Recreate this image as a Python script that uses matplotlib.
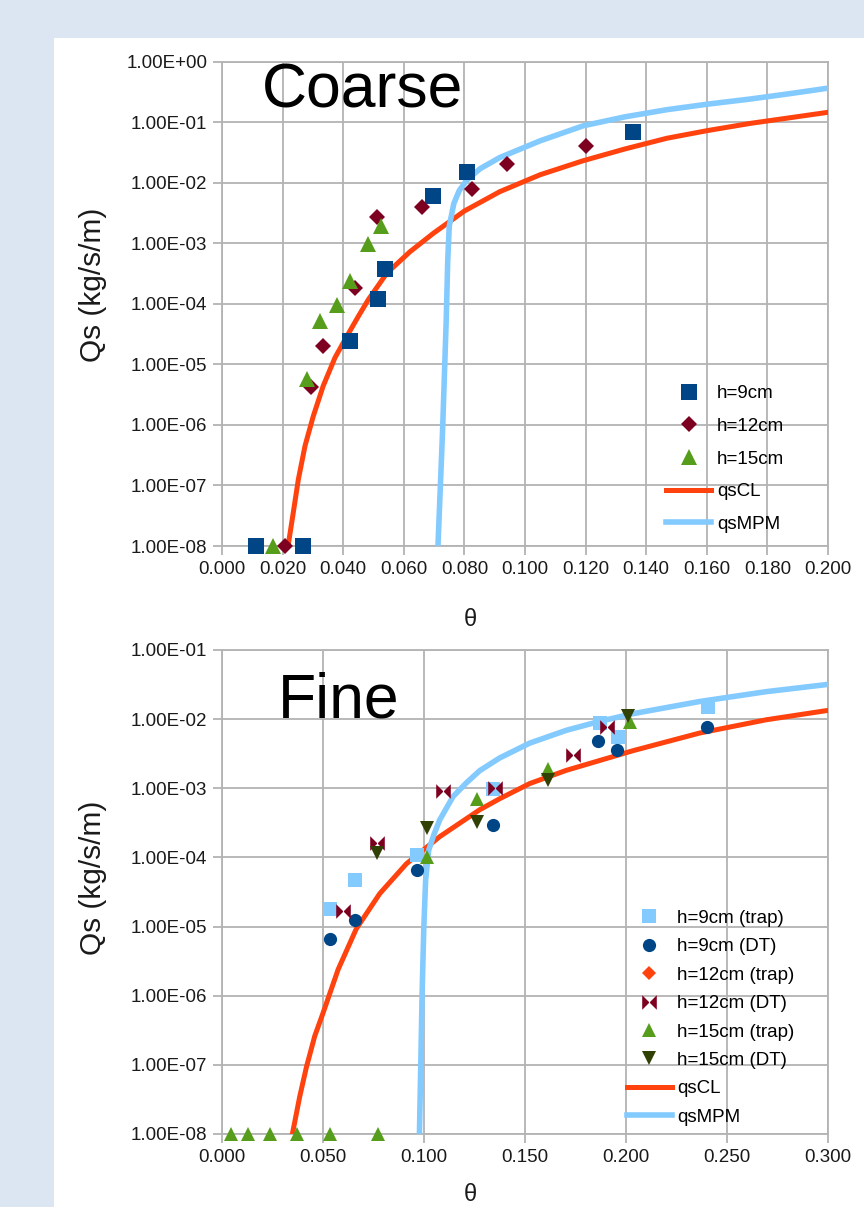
import matplotlib
matplotlib.use("Agg")
import matplotlib.pyplot as plt
from matplotlib.path import Path
from matplotlib.patches import Rectangle
from matplotlib.ticker import FixedLocator, FuncFormatter

plt.rcParams['font.family'] = ['Liberation Sans', 'DejaVu Sans']

# ---- Coarse data ----
c_h9_theta = [0.0111, 0.0266, 0.0421, 0.0514, 0.0537, 0.0695, 0.0808, 0.1356]
c_h9_qs = [1e-8, 1e-8, 2.4e-5, 1.2e-4, 3.8e-4, 6.1e-3, 1.5e-2, 6.9e-2]
c_h12_theta = [0.0207, 0.0295, 0.0333, 0.0438, 0.0510, 0.0661, 0.0826, 0.0939, 0.1200]
c_h12_qs = [1e-8, 4.2e-6, 2.0e-5, 1.8e-4, 2.7e-3, 4.0e-3, 7.7e-3, 2.0e-2, 4.1e-2]
c_h15_theta = [0.0168, 0.0281, 0.0325, 0.0378, 0.0424, 0.0482, 0.0526]
c_h15_qs = [1e-8, 5.8e-6, 5.2e-5, 9.5e-5, 2.4e-4, 9.6e-4, 1.9e-3]

c_cl_theta = [0.0215, 0.0235, 0.0252, 0.0274, 0.0301, 0.0334, 0.0373, 0.0412, 0.0450,
              0.0483, 0.0544, 0.0620, 0.0697, 0.0800, 0.0917, 0.1050, 0.1192, 0.1330,
              0.1468, 0.1600, 0.1743, 0.1870, 0.2000]
c_cl_qs = [8e-9, 3.5e-8, 1.26e-7, 4.5e-7, 1.38e-6, 4.4e-6, 1.29e-5, 2.9e-5, 6.2e-5,
           1.17e-4, 3.2e-4, 7.2e-4, 1.45e-3, 3.4e-3, 7.1e-3, 1.35e-2, 2.3e-2, 3.6e-2,
           5.4e-2, 7.2e-2, 9.5e-2, 0.117, 0.145]
c_mpm_theta = [0.0712, 0.0728, 0.0740, 0.0745, 0.0750, 0.0765, 0.0783, 0.0808, 0.0852,
               0.0917, 0.1050, 0.1193, 0.1330, 0.1468, 0.1604, 0.1743, 0.1875, 0.2000]
c_mpm_qs = [8e-9, 8.1e-7, 5.4e-5, 5.2e-4, 1.9e-3, 4.5e-3, 7.4e-3, 1.1e-2, 1.7e-2,
            2.6e-2, 4.9e-2, 8.7e-2, 0.122, 0.160, 0.198, 0.240, 0.295, 0.363]

# ---- Fine data ----
f_h9t_theta = [0.0535, 0.0658, 0.0964, 0.1343, 0.1871, 0.1962, 0.2407]
f_h9t_qs = [1.8e-5, 4.7e-5, 1.1e-4, 9.8e-4, 8.7e-3, 5.6e-3, 1.5e-2]
f_h9d_theta = [0.0535, 0.0658, 0.0964, 0.1343, 0.1863, 0.1954, 0.2399]
f_h9d_qs = [6.6e-6, 1.26e-5, 6.5e-5, 2.9e-4, 4.8e-3, 3.6e-3, 7.8e-3]
f_h12t_theta = []
f_h12t_qs = []
f_h12d_theta = [0.0599, 0.0766, 0.1096, 0.1351, 0.1739, 0.1904]
f_h12d_qs = [1.66e-5, 1.6e-4, 9.0e-4, 1.0e-3, 3.0e-3, 7.8e-3]
f_h15t_theta = [0.0047, 0.0129, 0.0237, 0.0369, 0.0533, 0.0771, 0.1013, 0.1261, 0.1615, 0.2020]
f_h15t_qs = [1e-8, 1e-8, 1e-8, 1e-8, 1e-8, 1e-8, 1.0e-4, 7.1e-4, 1.9e-3, 9.1e-3]
f_h15d_theta = [0.0766, 0.1013, 0.1261, 0.1615, 0.2011]
f_h15d_qs = [1.15e-4, 2.7e-4, 3.3e-4, 1.3e-3, 1.1e-2]

f_cl_theta = [0.0345, 0.0385, 0.0418, 0.0459, 0.0500, 0.0575, 0.0665, 0.0781, 0.0913,
              0.1078, 0.1276, 0.1376, 0.1523, 0.1705, 0.2035, 0.2365, 0.2695, 0.3008]
f_cl_qs = [8.9e-9, 3.5e-8, 9.3e-8, 2.6e-7, 5.6e-7, 2.4e-6, 9.3e-6, 3.0e-5, 8.1e-5,
           2.0e-4, 4.9e-4, 7.1e-4, 1.17e-3, 1.82e-3, 3.5e-3, 6.3e-3, 9.8e-3, 1.35e-2]
f_mpm_theta = [0.0977, 0.0984, 0.0991, 0.0999, 0.1008, 0.1023, 0.1048, 0.1078, 0.1144,
               0.1210, 0.1276, 0.1375, 0.1523, 0.1705, 0.1870, 0.2035, 0.2365, 0.2695, 0.3008]
f_mpm_qs = [9e-9, 1.0e-7, 1.2e-6, 9.5e-6, 4.7e-5, 1.26e-4, 2.1e-4, 3.5e-4, 7.6e-4,
            1.2e-3, 1.8e-3, 2.75e-3, 4.5e-3, 6.9e-3, 9.3e-3, 1.2e-2, 1.8e-2, 2.5e-2, 3.2e-2]

c_yticks = [1e-8, 1e-7, 1e-6, 1e-5, 1e-4, 1e-3, 1e-2, 1e-1, 1e0]
c_xticks = [0.00, 0.02, 0.04, 0.06, 0.08, 0.10, 0.12, 0.14, 0.16, 0.18, 0.20]
f_yticks = [1e-8, 1e-7, 1e-6, 1e-5, 1e-4, 1e-3, 1e-2, 1e-1]
f_xticks = [0.00, 0.05, 0.10, 0.15, 0.20, 0.25, 0.30]

# colours
dark_blue = '#004586'
light_blue = '#83caff'
wine = '#7e0021'
green = '#579d1c'
dark_green = '#314004'
orange = '#ff420e'
grid_c = '#b3b3b3'
text_c = '#1a1a1a'

bowtie = Path([(-1, -1), (1, 1), (1, -1), (-1, 1), (-1, -1)],
              [Path.MOVETO, Path.LINETO, Path.LINETO, Path.LINETO, Path.CLOSEPOLY])

fig = plt.figure(figsize=(8.64, 12.07), dpi=100)
fig.patch.set_facecolor('#dce6f2')
fig.patches.append(Rectangle((54 / 864, 0), 1, 1 - 38 / 1207, transform=fig.transFigure,
                             facecolor='white', edgecolor='none', zorder=-5))

ax1 = fig.add_axes([222 / 864, 1 - 546 / 1207, 606 / 864, 484.5 / 1207])
ax2 = fig.add_axes([222 / 864, 1 - 1134 / 1207, 606 / 864, 484 / 1207])


def style_axes(ax, xticks, yticks, xlim, ylim):
    ax.set_yscale('log')
    ax.set_xlim(*xlim)
    ax.set_ylim(*ylim)
    ax.yaxis.set_major_locator(FixedLocator(yticks))
    ax.yaxis.set_minor_locator(FixedLocator([]))
    ax.yaxis.set_major_formatter(FuncFormatter(lambda v, p: f"{v:.2E}"))
    ax.xaxis.set_major_locator(FixedLocator(xticks))
    ax.xaxis.set_major_formatter(FuncFormatter(lambda v, p: f"{v:.3f}"))
    ax.grid(True, color=grid_c, linewidth=1.3)
    ax.set_axisbelow(True)
    for s in ax.spines.values():
        s.set_color(grid_c)
        s.set_linewidth(1.3)
    ax.tick_params(axis='both', which='major', color=grid_c, length=6.5, width=1.3,
                   labelsize=13.5, labelcolor=text_c, pad=4)
    ax.set_facecolor('white')


def pts(ax, x, y, marker, color, ms, label):
    ax.plot(x, y, marker=marker, ls='none', color=color, ms=ms, mew=0, label=label,
            zorder=4, clip_on=False)


# ---- Coarse ----
pts(ax1, c_h9_theta, c_h9_qs, 's', dark_blue, 11, 'h=9cm')
pts(ax1, c_h12_theta, c_h12_qs, 'D', wine, 8.5, 'h=12cm')
pts(ax1, c_h15_theta, c_h15_qs, '^', green, 11, 'h=15cm')
ax1.plot(c_cl_theta, c_cl_qs, '-', color=orange, lw=3.6, label='qsCL', zorder=3)
ax1.plot(c_mpm_theta, c_mpm_qs, '-', color=light_blue, lw=4, label='qsMPM', zorder=3)
style_axes(ax1, c_xticks, c_yticks, (0, 0.2), (1e-8, 1))
ax1.legend(loc='upper left', bbox_to_anchor=(0.733, 0.332), frameon=False, fontsize=13.5,
           handlelength=2.4, handletextpad=0.3, labelspacing=0.83, borderpad=0,
           borderaxespad=0)

# ---- Fine ----
pts(ax2, f_h9t_theta, f_h9t_qs, 's', light_blue, 9.5, 'h=9cm (trap)')
pts(ax2, f_h9d_theta, f_h9d_qs, 'o', dark_blue, 9.5, 'h=9cm (DT)')
pts(ax2, f_h12t_theta, f_h12t_qs, 'D', orange, 7, 'h=12cm (trap)')
pts(ax2, f_h12d_theta, f_h12d_qs, bowtie, wine, 10.5, 'h=12cm (DT)')
pts(ax2, f_h15t_theta, f_h15t_qs, '^', green, 10.5, 'h=15cm (trap)')
pts(ax2, f_h15d_theta, f_h15d_qs, 'v', dark_green, 10.5, 'h=15cm (DT)')
ax2.plot(f_cl_theta, f_cl_qs, '-', color=orange, lw=3.6, label='qsCL', zorder=3)
ax2.plot(f_mpm_theta, f_mpm_qs, '-', color=light_blue, lw=4, label='qsMPM', zorder=3)
style_axes(ax2, f_xticks, f_yticks, (0, 0.3), (1e-8, 1e-1))
ax2.legend(loc='upper left', bbox_to_anchor=(0.668, 0.463), frameon=False, fontsize=13.5,
           handlelength=2.4, handletextpad=0.3, labelspacing=0.6, borderpad=0,
           borderaxespad=0)

# ---- labels ----
for yc in (285, 878):
    fig.text(93 / 864, 1 - yc / 1207, 'Qs (kg/s/m)', rotation=90, ha='center', va='center',
             fontsize=21.5, color=text_c)
fig.text(470 / 864, 1 - 620 / 1207, 'θ', ha='center', va='center', fontsize=17, color=text_c)
fig.text(470 / 864, 1 - 1195 / 1207, 'θ', ha='center', va='center', fontsize=17, color=text_c)

fig.text(262 / 864, 1 - 107 / 1207, 'Coarse', ha='left', va='baseline', fontsize=45, color='black')
fig.text(278 / 864, 1 - 717 / 1207, 'Fine', ha='left', va='baseline', fontsize=45, color='black')

fig.savefig('out.png', dpi=100, facecolor=fig.get_facecolor())
